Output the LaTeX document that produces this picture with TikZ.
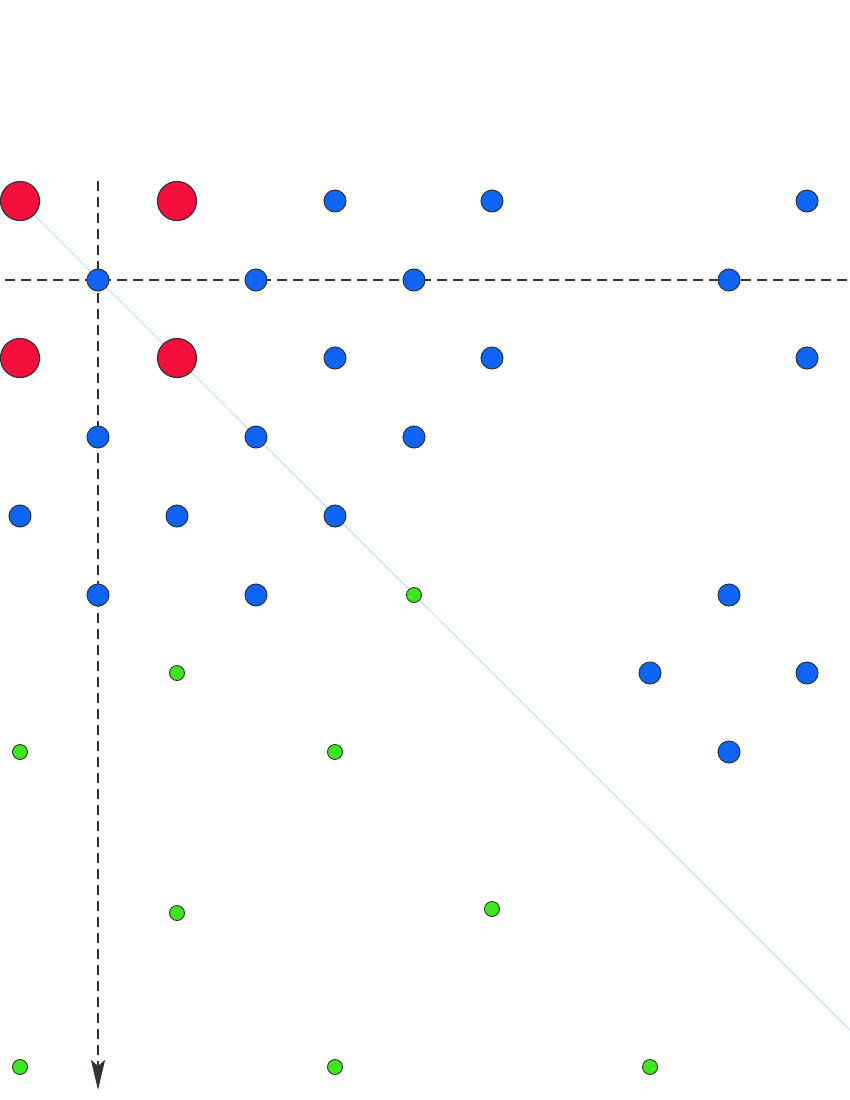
\documentclass[tikz,border=0pt]{standalone}
\usetikzlibrary{arrows.meta}
\definecolor{dotred}{HTML}{F50F3C}
\definecolor{dotblue}{HTML}{0F64F5}
\definecolor{dotgreen}{HTML}{3EE61E}
\definecolor{edge}{HTML}{2E3532}
\definecolor{diag}{HTML}{B4D0FA}
\tikzset{
  reddot/.style={circle,draw=edge,line width=1.2pt,fill=dotred,minimum size=39pt,inner sep=0pt},
  bluedot/.style={circle,draw=edge,line width=1pt,fill=dotblue,minimum size=22pt,inner sep=0pt},
  greendot/.style={circle,draw=edge,line width=0.9pt,fill=dotgreen,minimum size=15pt,inner sep=0pt},
  guide/.style={draw=edge,line width=2.7pt,dash pattern=on 10pt off 6pt},
  diagline/.style={draw=diag,line width=0.7pt}
}
\begin{document}
\begin{tikzpicture}[x=1pt,y=-1pt]
\useasboundingbox (0,0) rectangle (850,1100);
% coordinates
\coordinate (hL) at (5,280);
\coordinate (hR) at (850,280);
\coordinate (vT) at (98,181);
\coordinate (vB) at (98,1090);
\coordinate (dE) at (850,1030);
\coordinate (dS) at (20,201);
% lines behind
\draw[diagline] (dS) -- (dE);
\draw[guide] (hL) -- (hR);
\draw[guide,-{Stealth[length=30pt,width=14pt,inset=6pt]}] (vT) -- (vB);
% red
\node[reddot] (r1) at (20,201) {};
\node[reddot] (r2) at (177,201) {};
\node[reddot] (r3) at (20,358) {};
\node[reddot] (r4) at (177,358) {};
% blue
\node[bluedot] (b1) at (335,201) {};
\node[bluedot] (b2) at (492,201) {};
\node[bluedot] (b3) at (807,201) {};
\node[bluedot] (b4) at (98,280) {};
\node[bluedot] (b5) at (256,280) {};
\node[bluedot] (b6) at (414,280) {};
\node[bluedot] (b7) at (729,280) {};
\node[bluedot] (b8) at (335,358) {};
\node[bluedot] (b9) at (492,358) {};
\node[bluedot] (b10) at (807,358) {};
\node[bluedot] (b11) at (98,437) {};
\node[bluedot] (b12) at (256,437) {};
\node[bluedot] (b13) at (414,437) {};
\node[bluedot] (b14) at (20,516) {};
\node[bluedot] (b15) at (177,516) {};
\node[bluedot] (b16) at (335,516) {};
\node[bluedot] (b17) at (98,595) {};
\node[bluedot] (b18) at (256,595) {};
\node[bluedot] (b19) at (729,595) {};
\node[bluedot] (b20) at (650,673) {};
\node[bluedot] (b21) at (807,673) {};
\node[bluedot] (b22) at (729,752) {};
% green
\node[greendot] (g1) at (414,595) {};
\node[greendot] (g2) at (177,673) {};
\node[greendot] (g3) at (20,752) {};
\node[greendot] (g4) at (335,752) {};
\node[greendot] (g5) at (177,913) {};
\node[greendot] (g6) at (492,909) {};
\node[greendot] (g7) at (20,1067) {};
\node[greendot] (g8) at (335,1067) {};
\node[greendot] (g9) at (650,1067) {};
\end{tikzpicture}
\end{document}
